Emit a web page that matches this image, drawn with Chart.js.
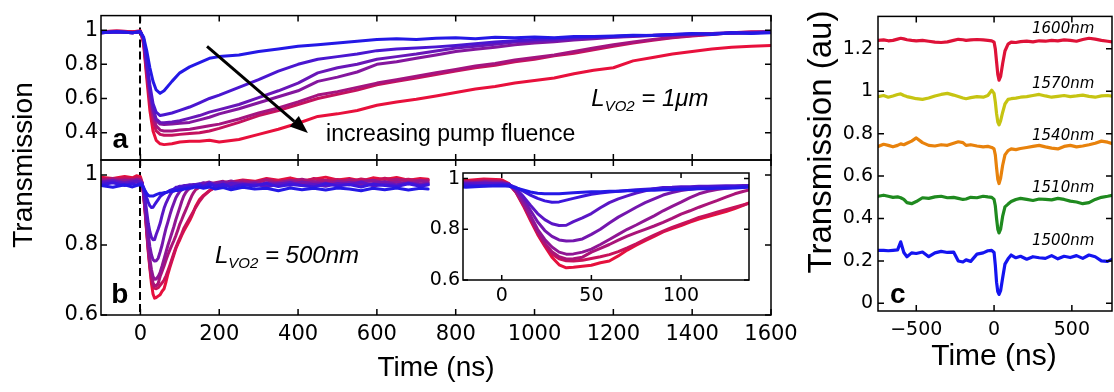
<!DOCTYPE html>
<html>
<head>
<meta charset="utf-8">
<script src="https://cdn.jsdelivr.net/npm/chart.js@4.4.0/dist/chart.umd.min.js"></script>
<style>
  html, body { margin: 0; padding: 0; background: #fff; }
  #wrap { position: relative; width: 1114px; height: 392px; overflow: hidden; background: #fff; }
  #wrap canvas { position: absolute; left: 0; top: 0; }
</style>
</head>
<body>
<div id="wrap">
  <canvas id="panelA" width="1114" height="392"></canvas>
  <canvas id="panelB" width="1114" height="392"></canvas>
  <canvas id="panelInset" width="1114" height="392"></canvas>
  <canvas id="panelC" width="1114" height="392"></canvas>
</div>
<script>
// ---------- panel a : L_VO2 = 1 um, time in ns ----------
const timeA = [-100,-60,-20,0,8,16,24,32,40,50,60,80,100,125,150,175,200,250,300,350,400,450,500,550,600,650,700,750,800,850,900,950,1000,1050,1100,1150,1200,1250,1300,1350,1400,1450,1500,1550,1600];
const transA1 = [0.985,0.99,0.985,0.99,0.96,0.88,0.78,0.70,0.65,0.63,0.645,0.70,0.75,0.785,0.81,0.835,0.845,0.855,0.875,0.89,0.905,0.915,0.925,0.935,0.945,0.95,0.945,0.952,0.955,0.95,0.958,0.955,0.96,0.956,0.962,0.962,0.966,0.97,0.968,0.975,0.98,0.975,0.985,0.98,0.985];
const transA2 = [0.985,0.99,0.985,0.99,0.95,0.82,0.68,0.57,0.52,0.50,0.505,0.515,0.53,0.55,0.575,0.60,0.62,0.665,0.71,0.76,0.80,0.83,0.845,0.86,0.88,0.89,0.895,0.902,0.91,0.92,0.93,0.938,0.945,0.95,0.955,0.96,0.962,0.968,0.97,0.975,0.978,0.98,0.985,0.985,0.99];
const transA3 = [0.985,0.99,0.985,0.99,0.95,0.80,0.65,0.54,0.48,0.46,0.458,0.462,0.47,0.485,0.50,0.52,0.535,0.565,0.605,0.645,0.69,0.75,0.78,0.80,0.83,0.845,0.86,0.878,0.895,0.905,0.918,0.93,0.935,0.94,0.948,0.955,0.96,0.965,0.97,0.972,0.978,0.98,0.982,0.985,0.988];
const transA4 = [0.985,0.99,0.985,0.99,0.95,0.79,0.64,0.53,0.47,0.45,0.448,0.45,0.455,0.46,0.475,0.49,0.51,0.54,0.575,0.61,0.645,0.70,0.725,0.755,0.80,0.815,0.835,0.855,0.875,0.888,0.90,0.915,0.925,0.932,0.942,0.95,0.958,0.962,0.968,0.972,0.975,0.98,0.982,0.985,0.988];
const transA5 = [0.985,0.99,0.985,0.99,0.94,0.77,0.61,0.50,0.44,0.415,0.41,0.41,0.415,0.42,0.43,0.44,0.45,0.48,0.515,0.545,0.58,0.62,0.64,0.665,0.69,0.71,0.73,0.75,0.77,0.79,0.805,0.825,0.84,0.855,0.875,0.895,0.915,0.93,0.945,0.958,0.968,0.978,0.985,0.988,0.99];
const transA6 = [0.99,0.995,0.99,0.995,0.93,0.75,0.58,0.47,0.41,0.39,0.385,0.385,0.39,0.395,0.40,0.41,0.425,0.46,0.50,0.53,0.565,0.60,0.625,0.65,0.68,0.70,0.72,0.74,0.76,0.78,0.795,0.815,0.83,0.85,0.865,0.885,0.905,0.925,0.94,0.955,0.965,0.975,0.985,0.99,0.99];
const transA7 = [0.99,0.995,0.99,0.995,0.92,0.72,0.53,0.41,0.355,0.335,0.33,0.335,0.345,0.35,0.35,0.355,0.345,0.36,0.39,0.42,0.455,0.495,0.51,0.53,0.56,0.58,0.595,0.615,0.635,0.655,0.67,0.69,0.705,0.72,0.745,0.765,0.78,0.82,0.84,0.86,0.875,0.89,0.90,0.905,0.91];

// ---------- panel b (and its inset) : L_VO2 = 500 nm ----------
const timeB = [-100,-70,-40,-20,-10,0,4,8,12,16,20,24,28,32,36,40,45,50,55,60,65,70,75,80,85,90,95,100,105,110,115,120,125,130,135,140,150,160,175,190,210,230,260,290,320,350,380,410,440,470,500,530,560,590,620,650,680,710,730];
const transB1 = [0.97,0.965,0.972,0.966,0.97,0.972, 0.97,0.963,0.955,0.947,0.942,0.94,0.94,0.94,0.942,0.944, 0.946,0.948,0.948,0.95,0.95,0.952,0.952,0.954,0.954,0.956,0.956,0.958,0.958,0.96,0.96,0.962,0.962,0.963,0.965,0.966, 0.965,0.962,0.966,0.96,0.964,0.958,0.965,0.96,0.962,0.955,0.963,0.958,0.962,0.957,0.963,0.96,0.955,0.962,0.958,0.963,0.957,0.962,0.96];
const transB2 = [0.972,0.978,0.97,0.975,0.972,0.976, 0.975,0.965,0.95,0.935,0.922,0.912,0.907,0.908,0.915,0.922, 0.93,0.938,0.943,0.947,0.95,0.953,0.956,0.958,0.96,0.962,0.963,0.964,0.965,0.966,0.966,0.967,0.968,0.968,0.969,0.97, 0.972,0.966,0.975,0.968,0.974,0.965,0.972,0.969,0.976,0.967,0.973,0.97,0.966,0.975,0.969,0.973,0.966,0.974,0.97,0.967,0.975,0.968,0.972];
const transB3 = [0.978,0.982,0.976,0.98,0.983,0.98, 0.978,0.96,0.93,0.895,0.862,0.838,0.822,0.815,0.816,0.83, 0.845,0.862,0.885,0.905,0.92,0.932,0.943,0.952,0.96,0.965,0.966,0.968,0.968,0.97,0.97,0.971,0.972,0.972,0.973,0.973, 0.975,0.97,0.978,0.972,0.968,0.977,0.971,0.975,0.966,0.974,0.979,0.97,0.973,0.968,0.976,0.972,0.98,0.969,0.974,0.971,0.977,0.97,0.973];
const transB4 = [0.98,0.985,0.978,0.983,0.98,0.982, 0.978,0.955,0.92,0.875,0.83,0.795,0.772,0.758,0.754,0.755, 0.762,0.78,0.80,0.825,0.848,0.867,0.887,0.905,0.92,0.935,0.945,0.953,0.958,0.962,0.965,0.967,0.968,0.969,0.97,0.971, 0.974,0.978,0.971,0.976,0.98,0.972,0.977,0.969,0.978,0.975,0.971,0.98,0.974,0.977,0.97,0.979,0.973,0.976,0.981,0.972,0.977,0.974,0.976];
const transB5 = [0.984,0.98,0.986,0.982,0.988,0.985, 0.978,0.95,0.905,0.855,0.80,0.76,0.73,0.71,0.702,0.703, 0.71,0.722,0.74,0.76,0.78,0.80,0.817,0.835,0.853,0.873,0.89,0.907,0.925,0.94,0.95,0.957,0.962,0.966,0.968,0.97, 0.972,0.976,0.98,0.974,0.978,0.983,0.975,0.98,0.972,0.979,0.984,0.976,0.981,0.974,0.982,0.977,0.98,0.985,0.976,0.98,0.975,0.983,0.979];
const transB6 = [0.986,0.99,0.984,0.988,0.985,0.988, 0.978,0.948,0.90,0.845,0.79,0.745,0.712,0.692,0.683,0.684, 0.69,0.71,0.725,0.74,0.757,0.773,0.787,0.80,0.813,0.827,0.843,0.86,0.873,0.887,0.90,0.913,0.927,0.94,0.95,0.958, 0.965,0.97,0.975,0.978,0.982,0.976,0.984,0.979,0.986,0.977,0.983,0.988,0.98,0.985,0.978,0.987,0.981,0.984,0.979,0.988,0.982,0.985,0.983];
const transB7 = [0.99,0.986,0.992,0.988,0.994,0.99, 0.978,0.946,0.897,0.84,0.785,0.738,0.703,0.684,0.676,0.675, 0.678,0.685,0.692,0.70,0.712,0.727,0.743,0.76,0.777,0.793,0.807,0.82,0.833,0.847,0.857,0.867,0.877,0.887,0.897,0.907, 0.925,0.94,0.955,0.965,0.972,0.978,0.984,0.979,0.988,0.982,0.986,0.979,0.99,0.984,0.987,0.981,0.989,0.983,0.991,0.985,0.988,0.982,0.986];
const transB8 = [0.994,0.99,0.996,0.992,0.998,0.995, 0.98,0.945,0.893,0.835,0.78,0.733,0.69,0.66,0.648,0.65, 0.654,0.658,0.668,0.675,0.695,0.718,0.737,0.755,0.772,0.79,0.803,0.815,0.828,0.84,0.85,0.86,0.87,0.882,0.895,0.91, 0.93,0.942,0.955,0.965,0.972,0.98,0.986,0.982,0.99,0.985,0.992,0.984,0.988,0.994,0.986,0.99,0.983,0.992,0.987,0.993,0.985,0.99,0.988];

// ---------- panel c : probe wavelength series (offset traces) ----------
const timeC = [-745,-710,-680,-650,-620,-600,-580,-560,-530,-500,-460,-420,-380,-340,-300,-260,-230,-200,-180,-150,-110,-70,-40,-15,0,8,16,24,32,42,55,70,90,110,140,170,210,250,290,330,370,410,450,490,530,570,610,650,690,730,765];
const trace1600 = [1.24,1.242,1.238,1.24,1.246,1.25,1.247,1.243,1.24,1.238,1.24,1.236,1.232,1.23,1.233,1.24,1.245,1.243,1.24,1.242,1.244,1.242,1.24,1.238,1.232,1.2,1.14,1.08,1.052,1.07,1.13,1.19,1.222,1.232,1.23,1.234,1.236,1.233,1.238,1.236,1.24,1.238,1.242,1.24,1.236,1.244,1.25,1.246,1.24,1.236,1.232];
const trace1570 = [0.975,0.98,0.972,0.978,0.985,0.988,0.98,0.975,0.97,0.965,0.962,0.968,0.978,0.985,0.99,0.982,0.975,0.968,0.965,0.97,0.975,0.972,0.98,1.005,0.99,0.95,0.895,0.855,0.842,0.86,0.9,0.94,0.962,0.965,0.968,0.972,0.975,0.98,0.985,0.978,0.972,0.976,0.98,0.975,0.978,0.982,0.976,0.972,0.978,0.98,0.976];
const trace1540 = [0.74,0.75,0.745,0.738,0.745,0.752,0.748,0.755,0.765,0.78,0.758,0.745,0.742,0.748,0.745,0.755,0.762,0.758,0.745,0.748,0.742,0.738,0.74,0.735,0.728,0.7,0.64,0.585,0.565,0.59,0.65,0.7,0.72,0.728,0.725,0.73,0.735,0.74,0.745,0.738,0.732,0.728,0.74,0.745,0.738,0.742,0.748,0.755,0.765,0.76,0.752];
const trace1510 = [0.505,0.51,0.505,0.5,0.502,0.498,0.49,0.475,0.47,0.48,0.498,0.495,0.502,0.505,0.498,0.5,0.495,0.49,0.492,0.5,0.498,0.505,0.502,0.5,0.49,0.46,0.4,0.35,0.332,0.35,0.41,0.455,0.468,0.48,0.49,0.495,0.49,0.485,0.492,0.49,0.488,0.495,0.49,0.482,0.478,0.47,0.475,0.49,0.5,0.505,0.51];
const trace1500 = [0.25,0.25,0.248,0.25,0.252,0.29,0.24,0.22,0.238,0.235,0.242,0.22,0.238,0.245,0.24,0.242,0.2,0.195,0.205,0.198,0.232,0.238,0.248,0.25,0.24,0.18,0.1,0.055,0.042,0.06,0.12,0.185,0.21,0.228,0.215,0.222,0.208,0.22,0.215,0.212,0.225,0.21,0.222,0.216,0.225,0.212,0.228,0.22,0.2,0.198,0.21];
const wavelengthLabels = ['1600nm', '1570nm', '1540nm', '1510nm', '1500nm'];

// ---------- tick positions ----------
const ticksTimeAB = [0, 200, 400, 600, 800, 1000, 1200, 1400, 1600];
const ticksTransA = [0.4, 0.6, 0.8, 1];
const ticksTransB = [0.6, 0.8, 1];
const ticksTimeInset = [0, 50, 100];
const ticksTransInset = [0.6, 0.8, 1];
const ticksTimeC = [-500, 0, 500];
const ticksTransC = [0, 0.2, 0.4, 0.6, 0.8, 1, 1.2];

// ---------- styling ----------
const W = 1114, H = 392;
const TICK_FONT = '"DejaVu Sans", sans-serif';
const TEXT_FONT = '"Liberation Sans", Arial, sans-serif';
const fluenceColorsA = ['#2418e6', '#4a16d0', '#6816b8', '#84169e', '#a41480', '#c4125e', '#e8103c'];
const fluenceColorsB = ['#2418e6', '#3c16dc', '#5a16c6', '#7416ae', '#901694', '#aa1478', '#c8125a', '#e6103c'];
const wavelengthColors = ['#de1238', '#c6c412', '#e8820c', '#1f8a1f', '#1414f0'];

const pts = (xs, ys) => xs.map((x, i) => ({ x, y: ys[i] }));
const trim = v => String(+(+v).toFixed(3));
const signed = v => (v < 0 ? '\u2212' + trim(-v) : trim(v));

function lineSets(xs, series, colors, width) {
  return series.map((ys, i) => ({
    data: pts(xs, ys), borderColor: colors[i], backgroundColor: colors[i],
    borderWidth: width, pointRadius: 0, fill: false, tension: 0,
    borderJoinStyle: 'round', borderCapStyle: 'round'
  }));
}

function richText(ctx, x, y, parts) {
  ctx.save();
  ctx.fillStyle = '#000';
  ctx.textAlign = 'left';
  ctx.textBaseline = 'alphabetic';
  let cx = x;
  parts.forEach(p => {
    ctx.font = p.font;
    ctx.fillText(p.text, cx, y + (p.dy || 0));
    cx += ctx.measureText(p.text).width;
  });
  ctx.restore();
}

function verticalText(ctx, str, x, y, font) {
  ctx.save();
  ctx.translate(x, y);
  ctx.rotate(-Math.PI / 2);
  ctx.font = font;
  ctx.fillStyle = '#000';
  ctx.textAlign = 'center';
  ctx.textBaseline = 'alphabetic';
  ctx.fillText(str, 0, 0);
  ctx.restore();
}

function centeredText(ctx, str, x, y, font) {
  ctx.save();
  ctx.font = font;
  ctx.fillStyle = '#000';
  ctx.textAlign = 'center';
  ctx.textBaseline = 'alphabetic';
  ctx.fillText(str, x, y);
  ctx.restore();
}

function arrow(ctx, x1, y1, x2, y2) {
  const ang = Math.atan2(y2 - y1, x2 - x1), head = 18, half = 7;
  const bx = x2 - head * Math.cos(ang), by = y2 - head * Math.sin(ang);
  ctx.save();
  ctx.strokeStyle = '#000'; ctx.fillStyle = '#000'; ctx.lineWidth = 3;
  ctx.beginPath(); ctx.moveTo(x1, y1); ctx.lineTo(bx, by); ctx.stroke();
  ctx.beginPath();
  ctx.moveTo(x2, y2);
  ctx.lineTo(bx - half * Math.sin(ang), by + half * Math.cos(ang));
  ctx.lineTo(bx + half * Math.sin(ang), by - half * Math.cos(ang));
  ctx.closePath(); ctx.fill();
  ctx.restore();
}

// box, inward tick marks on all four sides, optional dashed t = 0 marker, extra drawing
function boxed(o) {
  return {
    id: 'boxed',
    beforeDatasetsDraw(chart) {
      const { ctx, chartArea: a, scales } = chart;
      if (o.whiteFill) {
        ctx.save(); ctx.fillStyle = '#fff';
        ctx.fillRect(a.left, a.top, a.right - a.left, a.bottom - a.top);
        ctx.restore();
      }
      if (o.zeroLine) {
        const x = Math.round(scales.x.getPixelForValue(0));
        ctx.save(); ctx.strokeStyle = '#000'; ctx.lineWidth = 2; ctx.setLineDash([8, 4]);
        ctx.beginPath(); ctx.moveTo(x, a.top); ctx.lineTo(x, a.bottom); ctx.stroke();
        ctx.restore();
      }
    },
    afterDatasetsDraw(chart) {
      const { ctx, chartArea: a, scales } = chart;
      const L = o.tickLen;
      ctx.save();
      ctx.strokeStyle = '#000'; ctx.lineWidth = 1.5;
      ctx.strokeRect(a.left, a.top, a.right - a.left, a.bottom - a.top);
      ctx.beginPath();
      scales.x.ticks.forEach(t => {
        const x = scales.x.getPixelForValue(t.value);
        ctx.moveTo(x, a.bottom); ctx.lineTo(x, a.bottom - L);
        ctx.moveTo(x, a.top); ctx.lineTo(x, a.top + L);
      });
      scales.y.ticks.forEach(t => {
        const y = scales.y.getPixelForValue(t.value);
        ctx.moveTo(a.left, y); ctx.lineTo(a.left + L, y);
        ctx.moveTo(a.right, y); ctx.lineTo(a.right - L, y);
      });
      ctx.stroke();
      ctx.restore();
      if (o.extra) o.extra(ctx, chart);
    }
  };
}

function panel(id, o) {
  const a = o.area;
  const setTicks = list => s => { s.ticks = list.map(v => ({ value: v })); };
  return new Chart(document.getElementById(id), {
    type: 'line',
    data: { datasets: o.datasets },
    options: {
      responsive: false, animation: false, devicePixelRatio: 1, events: [],
      layout: { autoPadding: false, padding: { left: 0, top: a.t, right: W - a.r, bottom: 0 } },
      plugins: { legend: { display: false }, tooltip: { enabled: false }, title: { display: false } },
      scales: {
        x: {
          type: 'linear', min: o.x.min, max: o.x.max,
          afterBuildTicks: setTicks(o.x.ticks),
          afterFit: s => { s.height = H - a.b; },
          grid: { display: false, drawTicks: false }, border: { display: false },
          ticks: { display: o.x.show, autoSkip: false, maxRotation: 0, minRotation: 0, padding: o.x.pad,
                   color: '#000', font: { family: TICK_FONT, size: o.fs }, callback: signed }
        },
        y: {
          type: 'linear', min: o.y.min, max: o.y.max,
          afterBuildTicks: setTicks(o.y.ticks),
          afterFit: s => { s.width = a.l; },
          grid: { display: false, drawTicks: false }, border: { display: false },
          ticks: { display: o.y.show, autoSkip: false, padding: o.y.pad,
                   color: '#000', font: { family: TICK_FONT, size: o.fs }, callback: trim }
        }
      }
    },
    plugins: [boxed(o)]
  });
}

// ---------- panel a ----------
panel('panelA', {
  area: { l: 101, t: 5, r: 771, b: 160 },
  x: { min: -100, max: 1600, ticks: ticksTimeAB, show: false, pad: 7 },
  y: { min: 0.24, max: 1.085, ticks: ticksTransA, show: true, pad: 3 },
  fs: 21, tickLen: 6, zeroLine: true,
  datasets: lineSets(timeA, [transA1, transA2, transA3, transA4, transA5, transA6, transA7], fluenceColorsA, 3),
  extra(ctx, chart) {
    const { x, y } = chart.scales;
    arrow(ctx, x.getPixelForValue(169), y.getPixelForValue(0.905), x.getPixelForValue(425), y.getPixelForValue(0.398));
    richText(ctx, x.getPixelForValue(-71), y.getPixelForValue(0.311), [{ text: 'a', font: 'bold 28px ' + TEXT_FONT }]);
    richText(ctx, x.getPixelForValue(471), y.getPixelForValue(0.349), [{ text: 'increasing pump fluence', font: '23px ' + TEXT_FONT }]);
    richText(ctx, x.getPixelForValue(1144), y.getPixelForValue(0.556), [
      { text: 'L', font: 'italic 24px ' + TEXT_FONT },
      { text: 'VO2', font: 'italic 15px ' + TEXT_FONT, dy: 5 },
      { text: ' = 1\u03bcm', font: 'italic 24px ' + TEXT_FONT }
    ]);
  }
});

// ---------- panel b ----------
const seriesB = [transB1, transB2, transB3, transB4, transB5, transB6, transB7, transB8];
panel('panelB', {
  area: { l: 101, t: 160, r: 771, b: 315 },
  x: { min: -100, max: 1600, ticks: ticksTimeAB, show: true, pad: 7 },
  y: { min: 0.6, max: 1.043, ticks: ticksTransB, show: true, pad: 3 },
  fs: 21, tickLen: 6, zeroLine: true,
  datasets: lineSets(timeB, seriesB, fluenceColorsB, 3),
  extra(ctx, chart) {
    const { x, y } = chart.scales;
    const a = chart.chartArea;
    richText(ctx, x.getPixelForValue(-74), y.getPixelForValue(0.634), [{ text: 'b', font: 'bold 28px ' + TEXT_FONT }]);
    richText(ctx, x.getPixelForValue(189), y.getPixelForValue(0.749), [
      { text: 'L', font: 'italic 24px ' + TEXT_FONT },
      { text: 'VO2', font: 'italic 15px ' + TEXT_FONT, dy: 5 },
      { text: ' = 500nm', font: 'italic 24px ' + TEXT_FONT }
    ]);
    centeredText(ctx, 'Time (ns)', (a.left + a.right) / 2, a.bottom + 61, '28px ' + TEXT_FONT);
    verticalText(ctx, 'Transmission', 32, 165, '28px ' + TEXT_FONT);
  }
});

// ---------- inset of panel b (first 140 ns) ----------
panel('panelInset', {
  area: { l: 463, t: 173, r: 749, b: 280 },
  x: { min: -21.6, max: 137.9, ticks: ticksTimeInset, show: true, pad: 5 },
  y: { min: 0.6, max: 1.022, ticks: ticksTransInset, show: true, pad: 3 },
  fs: 19, tickLen: 5, whiteFill: true,
  datasets: lineSets(timeB, seriesB, fluenceColorsB, 3)
});

// ---------- panel c ----------
panel('panelC', {
  area: { l: 878, t: 3, r: 1112, b: 311 },
  x: { min: -746, max: 758, ticks: ticksTimeC, show: true, pad: 8 },
  y: { min: -0.036, max: 1.353, ticks: ticksTransC, show: true, pad: 5 },
  fs: 19, tickLen: 6,
  datasets: lineSets(timeC, [trace1600, trace1570, trace1540, trace1510, trace1500], wavelengthColors, 3.2),
  extra(ctx, chart) {
    const { x, y } = chart.scales;
    const labelY = [1.277, 1.016, 0.772, 0.524, 0.276];
    wavelengthLabels.forEach((t, i) => {
      richText(ctx, x.getPixelForValue(244), y.getPixelForValue(labelY[i]), [{ text: t, font: 'italic 15px "DejaVu Sans", sans-serif' }]);
    });
    richText(ctx, x.getPixelForValue(-669), y.getPixelForValue(0), [{ text: 'c', font: 'bold 28px ' + TEXT_FONT }]);
    const a = chart.chartArea;
    centeredText(ctx, 'Time (ns)', (a.left + a.right) / 2 - 1, a.bottom + 54, '30px ' + TEXT_FONT);
    verticalText(ctx, 'Transmission (au)', 831, 142, '33px ' + TEXT_FONT);
  }
});
</script>
</body>
</html>
